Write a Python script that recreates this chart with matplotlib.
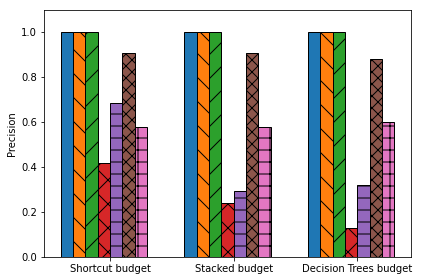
import numpy as np
import matplotlib
matplotlib.use("Agg")
import matplotlib.pyplot as plt

groups = ["Shortcut budget", "Stacked budget", "Decision Trees budget"]

# one list per bar series (7 series, 3 groups each)
s1 = [1.0, 1.0, 1.0]
s2 = [1.0, 1.0, 1.0]
s3 = [1.0, 1.0, 1.0]
s4 = [0.42, 0.239, 0.13]
s5 = [0.685, 0.295, 0.319]
s6 = [0.907, 0.907, 0.88]
s7 = [0.578, 0.578, 0.60]

series = [s1, s2, s3, s4, s5, s6, s7]
hatches = ['', '\\', '/', 'x', '-', 'xx', '+']
colors = plt.rcParams['axes.prop_cycle'].by_key()['color']

fig, ax = plt.subplots(figsize=(421 / 72, 280 / 72), dpi=72)
fig.subplots_adjust(left=44 / 421, right=411 / 421, top=1 - 10 / 280, bottom=1 - 257 / 280)

x = np.arange(len(groups))
width = 0.1
for i, vals in enumerate(series):
    ax.bar(x + (i - 4) * width, vals, width, align='edge', color=colors[i],
           edgecolor='black', linewidth=1, hatch=hatches[i])

ax.set_xticks(x)
ax.set_xticklabels(groups)
ax.set_ylabel('Precision')
ax.set_ylim(0, 1.1)

plt.savefig('out.png', dpi=72)
